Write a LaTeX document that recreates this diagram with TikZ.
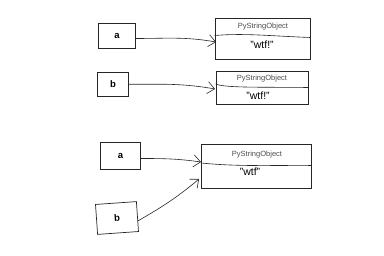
\documentclass[tikz,border=0pt]{standalone}
\usepackage{fontspec}
\setmainfont{Liberation Sans}
\usetikzlibrary{arrows.meta}
\tikzset{
  varbox/.style={draw=black!85, line width=0.7pt, minimum width=#1, minimum height=25pt, inner sep=0pt, font=\bfseries\fontsize{9.5}{9.5}\selectfont},
  objbox/.style={draw=black!85, line width=0.7pt, inner sep=0pt},
  typelbl/.style={font=\fontsize{7.5}{8}\selectfont, text=black!70, inner sep=0pt},
  vallbl/.style={font=\fontsize{10.5}{10.5}\selectfont, inner sep=0pt},
  divider/.style={draw=black!85, line width=0.6pt},
  ref/.style={draw=black!85, line width=0.6pt, -{Straight Barb[length=7pt,width=12pt,line width=0.6pt]}}
}
\begin{document}
\begin{tikzpicture}[x=1pt,y=-1pt]
\useasboundingbox (0,0) rectangle (384,256);
% top pair
\node[varbox=37pt] (a1) at (117,35.5) {a};
\node[varbox=31pt, minimum height=24pt] (b1) at (113,84.5) {b};
\node[objbox, minimum width=95pt, minimum height=41pt] (o1) at (262.5,38.8) {};
\node[typelbl] (t1) at (263,26.5) {PyStringObject};
\node[vallbl] (v1) at (262,45) {"wtf!"};
\draw[divider] (o1.west |- 0,35.5) .. controls (245,33) and (270,36) .. (o1.east |- 0,37.5);
\node[objbox, minimum width=92pt, minimum height=33pt] (o2) at (262,88.3) {};
\node[typelbl] (t2) at (262,78.5) {PyStringObject};
\node[vallbl] (v2) at (258,95.5) {"wtf!"};
\draw[divider] (o2.west |- 0,84) .. controls (225,88) and (260,87) .. (o2.east |- 0,87.5);
\coordinate (p1) at (216,42);
\coordinate (p2) at (215,89);
\draw[ref] (a1.east |- 0,38.5) to[out=0,in=170] (p1);
\draw[ref] (b1.east |- 0,84.3) to[out=0,in=170] (p2);
% bottom pair
\node[varbox=40pt, minimum height=27pt] (a2) at (120.5,156) {a};
\node[varbox=41pt, minimum height=30pt, rotate=4] (b2) at (117,218) {b};
\node[objbox, minimum width=110pt, minimum height=44pt] (o3) at (256.5,166.3) {};
\node[typelbl] (t3) at (257,155) {PyStringObject};
\node[vallbl] (v3) at (250,172) {"wtf"};
\draw[divider] (o3.west |- 0,163) .. controls (240,167) and (280,165) .. (o3.east |- 0,165.5);
\coordinate (p3) at (201,162);
\coordinate (p4) at (199,179);
\draw[ref] (a2.east |- 0,158.5) to[out=0,in=172] (p3);
\draw[ref] (b2.east |- 0,221) to[out=30,in=-140] (p4);
\end{tikzpicture}
\end{document}
